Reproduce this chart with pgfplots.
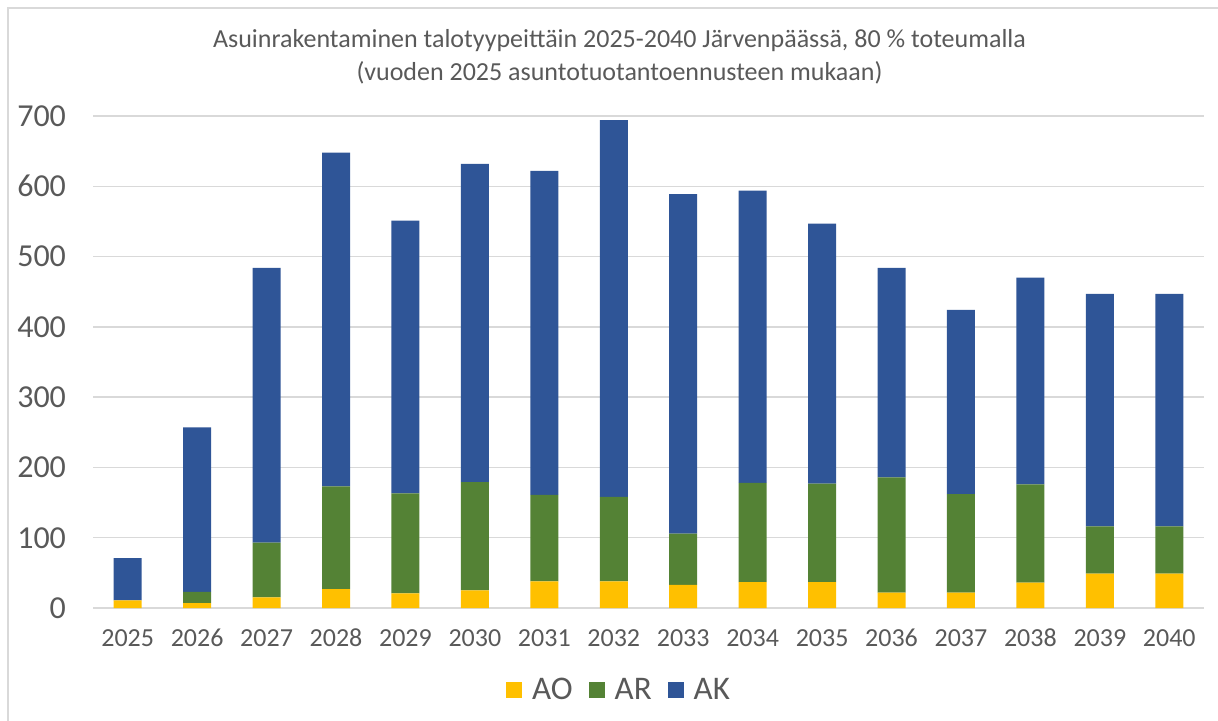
\documentclass[border=0pt]{standalone}
\usepackage{pgfplots}
\pgfplotsset{compat=1.18}
\usepackage{fontspec}
\setmainfont{Carlito}
\definecolor{cAO}{HTML}{FFC000}
\definecolor{cAR}{HTML}{548235}
\definecolor{cAK}{HTML}{2F5597}
\definecolor{txt}{HTML}{595959}
\definecolor{gridc}{HTML}{D9D9D9}
\begin{document}
\begin{tikzpicture}
\useasboundingbox (0,0) rectangle (609pt,360pt);
\draw[gridc, line width=0.7pt] (4pt,-10pt) -- (4pt,356pt) -- (640pt,356pt);
\begin{axis}[
  at={(46.5pt,56pt)}, anchor=south west,
  scale only axis, width=555.5pt, height=246pt,
  ybar stacked, bar width=14pt,
  xmin=-0.5, xmax=15.5, ymin=0, ymax=700,
  enlargelimits=false,
  xtick={0,...,15},
  xticklabels={2025,2026,2027,2028,2029,2030,2031,2032,2033,2034,2035,2036,2037,2038,2039,2040},
  ytick={0,100,...,700},
  ymajorgrids, grid style={gridc, line width=0.75pt},
  axis line style={draw=none},
  tick style={draw=none},
  /pgf/number format/assume math mode=true,
  yticklabel style={font=\fontsize{16}{18}\selectfont, text=txt, xshift=-10pt},
  xticklabel style={font=\fontsize{13}{15}\selectfont, text=txt, text height=8.6pt, text depth=0pt, yshift=-7pt},
  legend style={at={(0.4744,-0.1667)}, anchor=center, draw=none, fill=none,
    legend columns=3, font=\fontsize{16.5}{18}\selectfont, text=txt,
    /tikz/every odd column/.append style={column sep=3pt},
    /tikz/every even column/.append style={column sep=6pt}},
  legend image code/.code={\fill[#1] (0pt,-4pt) rectangle (8pt,4pt);},
]
\addplot[fill=cAO, draw=none] coordinates {
(0,11) (1,7) (2,15) (3,27) (4,21) (5,25) (6,38) (7,38)
(8,33) (9,37) (10,37) (11,22) (12,22) (13,36) (14,49) (15,49)};
\addlegendentry{AO}
\addplot[fill=cAR, draw=none] coordinates {
(0,0) (1,16) (2,78) (3,146) (4,142) (5,154) (6,123) (7,120)
(8,73) (9,141) (10,140) (11,164) (12,140) (13,140) (14,67) (15,67)};
\addlegendentry{AR}
\addplot[fill=cAK, draw=none] coordinates {
(0,60) (1,234) (2,391) (3,475) (4,388) (5,453) (6,461) (7,536)
(8,483) (9,416) (10,370) (11,298) (12,262) (13,294) (14,331) (15,331)};
\addlegendentry{AK}
\end{axis}
\node[text=txt, align=center, font=\fontsize{13}{16.5}\selectfont] at (309.75pt,331.75pt)
 {Asuinrakentaminen talotyypeittäin 2025-2040 Järvenpäässä, 80 \% toteumalla\\(vuoden 2025 asuntotuotantoennusteen mukaan)};
\end{tikzpicture}
\end{document}
